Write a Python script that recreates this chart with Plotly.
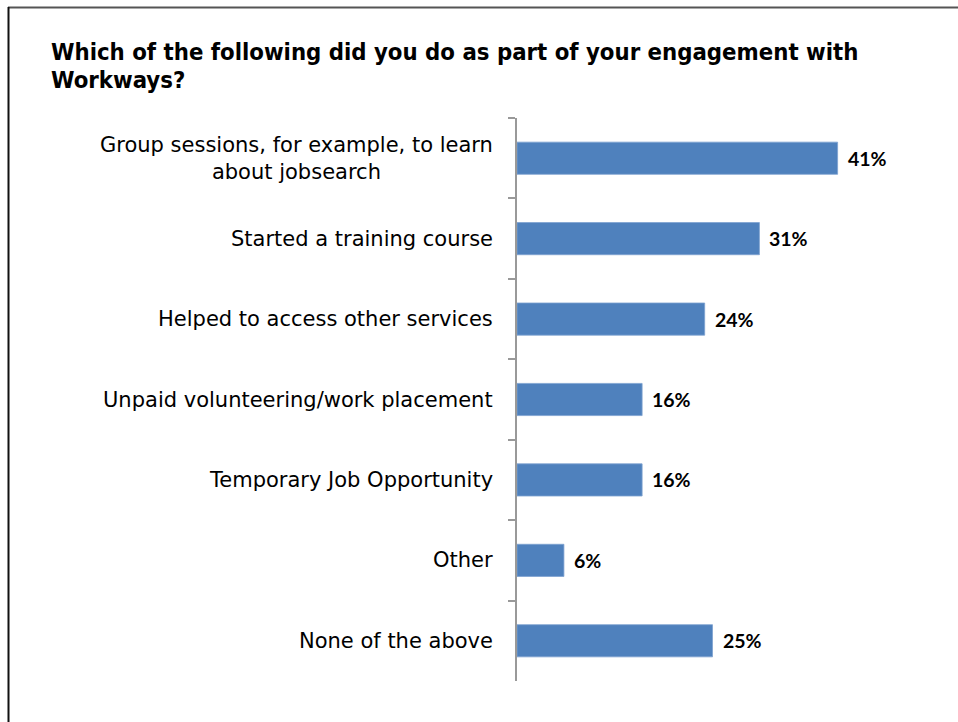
import plotly.graph_objects as go

# Survey responses: share of participants for each activity
activities = [
    "Group sessions, for example, to learn<br>about jobsearch",
    "Started a training course",
    "Helped to access other services",
    "Unpaid volunteering/work placement",
    "Temporary Job Opportunity",
    "Other",
    "None of the above",
]
shares = [41, 31, 24, 16, 16, 6, 25]
value_labels = ["41%", "31%", "24%", "16%", "16%", "6%", "25%"]

question_lines = [
    "Which of the following did you do as part of your engagement with",
    "Workways?",
]

W, H = 958, 722
M_L, M_R, M_T, M_B = 517, 50, 118, 41
plot_w = W - M_L - M_R
plot_h = H - M_T - M_B


def px_x(px):
    return (px - M_L) / plot_w


def px_y(py):
    return (H - M_B - py) / plot_h


fig = go.Figure(
    go.Bar(
        x=shares,
        y=activities,
        orientation="h",
        marker=dict(color="#4F81BD", line=dict(color="#7EA2D0", width=0.8)),
        width=0.4,
        hoverinfo="skip",
    )
)

annotations = []
# Category labels, right-aligned beside the axis, multi-line text centred
for cat in activities:
    annotations.append(dict(
        x=0, xref="paper", y=cat, yref="y",
        text=cat, showarrow=False, xanchor="right", yanchor="middle",
        align="center", xshift=-22,
        font=dict(family="DejaVu Sans", size=21, color="#000000"),
    ))
# Value labels at bar ends
for cat, v, lab in zip(activities, shares, value_labels):
    annotations.append(dict(
        x=v, xref="x", y=cat, yref="y",
        text="<b>" + lab + "</b>", showarrow=False, xanchor="left", yanchor="middle",
        xshift=8,
        font=dict(family="Lato", size=19.5, color="#000000"),
    ))
# Question heading, one annotation per line
for i, line in enumerate(question_lines):
    annotations.append(dict(
        x=px_x(49), xref="paper", y=px_y(36 + 28 * i), yref="paper",
        text="<b>" + line + "</b>", showarrow=False, xanchor="left", yanchor="top",
        align="left",
        font=dict(family="DejaVu Sans Condensed", size=23.7, color="#000000"),
    ))

shapes = [
    # frame: top rule and left rule
    dict(type="line", xref="paper", yref="paper",
         x0=px_x(8), x1=px_x(960), y0=px_y(7.5), y1=px_y(7.5),
         line=dict(color="#555555", width=2)),
    dict(type="line", xref="paper", yref="paper",
         x0=px_x(8.5), x1=px_x(8.5), y0=px_y(7), y1=px_y(724),
         line=dict(color="#111111", width=2)),
]

fig.update_layout(
    width=W, height=H,
    margin=dict(l=M_L, r=M_R, t=M_T, b=M_B),
    paper_bgcolor="white", plot_bgcolor="white",
    showlegend=False,
    annotations=annotations,
    shapes=shapes,
    xaxis=dict(range=[0, 50], visible=False, fixedrange=True),
    yaxis=dict(
        categoryorder="array", categoryarray=activities,
        autorange="reversed",
        showticklabels=False,
        ticks="outside", tickson="boundaries", ticklen=7, tickwidth=1.5,
        tickcolor="#999999",
        showline=True, linecolor="#999999", linewidth=1.5,
        showgrid=False, zeroline=False, fixedrange=True,
    ),
)

fig.write_html("out.html")
